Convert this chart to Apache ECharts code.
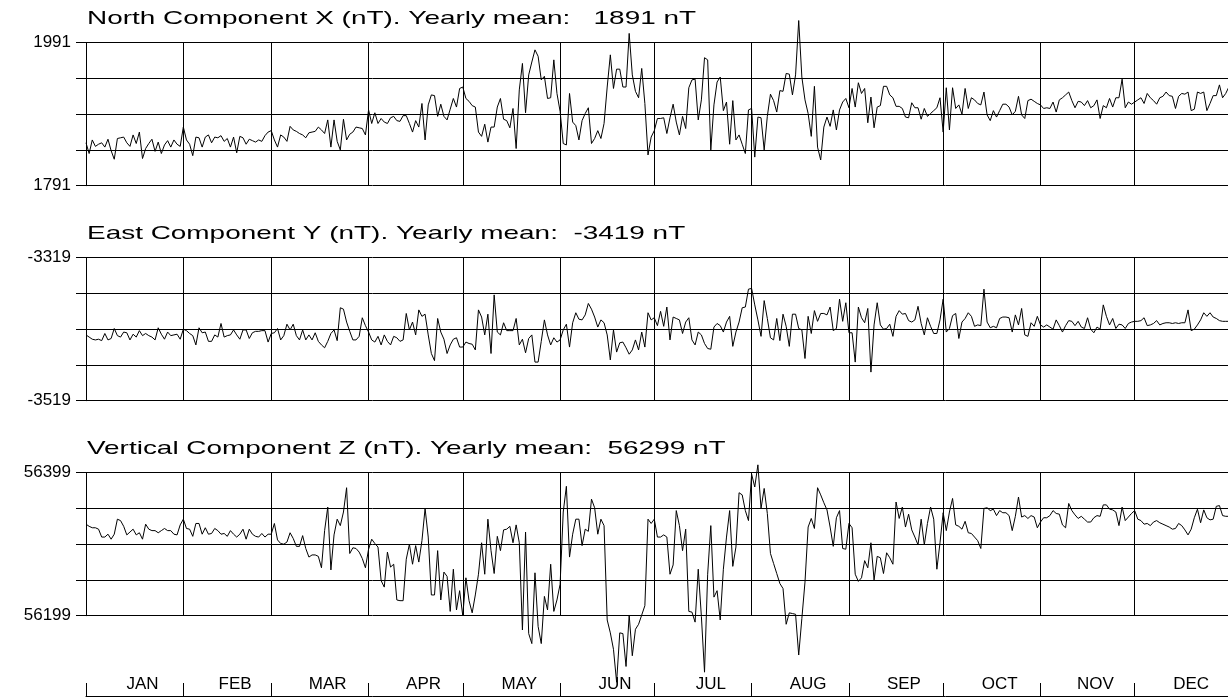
<!DOCTYPE html>
<html><head><meta charset="utf-8">
<script src="https://cdn.jsdelivr.net/npm/echarts@6/dist/echarts.min.js"></script>
<style>html,body{margin:0;padding:0;background:#fff;overflow:hidden;width:1228px;height:697px}#c{width:1232px;height:697px}</style>
</head><body><div id="c"></div>
<script>
// ---- data ----
const monthNames = ['JAN','FEB','MAR','APR','MAY','JUN','JUL','AUG','SEP','OCT','NOV','DEC'];
const monthDays = [31,28,31,30,31,30,31,31,30,31,30,31];
const titles = [
  'North Component X (nT). Yearly mean:   1891 nT',
  'East Component Y (nT). Yearly mean:  -3419 nT',
  'Vertical Component Z (nT). Yearly mean:  56299 nT'
];
const yTickLabelsX = [1791, 1991];
const yTickLabelsY = [-3519, -3319];
const yTickLabelsZ = [56199, 56399];

const northX = [
1851,1836,1855,1846,1849,1851,1845,1856,1840,1828,1857,1858,1859,1851,1846,1862,1850,1866,1829,1843,1850,1856,1839,1852,1836,1848,1854,1845,1855,1849,1846,
1873,1855,1849,1833,1859,1858,1845,1859,1862,1851,1859,1858,1861,1853,1857,1845,1859,1837,1860,1858,1849,1856,1854,1852,1855,1853,1861,1866,
1868,1855,1845,1862,1859,1853,1874,1869,1867,1864,1862,1858,1865,1866,1867,1873,1869,1864,1883,1845,1883,1853,1841,1884,1855,1863,1866,1873,1872,1871,1862,
1897,1878,1893,1878,1885,1880,1878,1886,1888,1882,1881,1889,1889,1878,1866,1882,1873,1906,1855,1904,1918,1917,1888,1905,1888,1883,1898,1913,1901,1927,
1929,1913,1909,1903,1901,1866,1860,1877,1852,1873,1873,1901,1913,1884,1882,1872,1899,1843,1925,1962,1893,1946,1964,1981,1972,1939,1944,1913,1914,1967,1920,
1895,1850,1848,1920,1880,1875,1855,1882,1892,1900,1850,1857,1868,1857,1878,1929,1974,1927,1954,1954,1929,1929,2004,1946,1923,1914,1955,1906,1834,1859,
1868,1885,1885,1886,1864,1886,1905,1880,1862,1888,1871,1928,1939,1940,1883,1911,1970,1967,1841,1904,1936,1943,1896,1908,1849,1910,1855,1862,1849,1836,1897,
1899,1831,1887,1886,1841,1888,1919,1910,1894,1924,1923,1948,1947,1918,1946,2022,1943,1911,1892,1860,1930,1845,1827,1873,1887,1874,1897,1869,1897,1908,1913,
1900,1927,1901,1935,1920,1927,1879,1915,1872,1901,1903,1930,1930,1918,1914,1902,1902,1899,1887,1886,1907,1900,1900,1884,1899,1888,1892,1896,1900,1914,
1866,1928,1869,1928,1899,1904,1891,1927,1899,1914,1911,1906,1904,1922,1890,1882,1896,1887,1896,1905,1905,1901,1890,1895,1916,1890,1885,1910,1912,1909,1906,
1904,1899,1900,1899,1908,1894,1911,1914,1918,1922,1910,1900,1909,1908,1903,1910,1900,1903,1911,1885,1903,1900,1913,1901,1914,1914,1940,1900,1908,1905,
1908,1911,1914,1906,1920,1914,1910,1905,1914,1916,1922,1917,1916,1899,1916,1920,1919,1922,1896,1898,1922,1920,1922,1896,1906,1917,1917,1932,1914,1920,1929
];

const eastY = [
-3427,-3430,-3433,-3434,-3433,-3435,-3425,-3434,-3432,-3418,-3428,-3430,-3423,-3424,-3434,-3426,-3430,-3421,-3428,-3425,-3428,-3430,-3434,-3417,-3426,-3433,-3423,-3428,-3427,-3426,-3433,
-3419,-3421,-3425,-3428,-3441,-3417,-3424,-3423,-3436,-3436,-3427,-3430,-3411,-3430,-3428,-3427,-3420,-3427,-3433,-3420,-3420,-3432,-3424,-3422,-3422,-3421,-3421,-3437,
-3425,-3424,-3418,-3434,-3428,-3412,-3420,-3412,-3428,-3434,-3420,-3434,-3427,-3434,-3424,-3436,-3441,-3445,-3436,-3425,-3420,-3435,-3389,-3391,-3409,-3422,-3434,-3434,-3429,-3403,-3414,
-3423,-3434,-3437,-3429,-3441,-3427,-3436,-3441,-3429,-3431,-3436,-3434,-3397,-3420,-3409,-3427,-3392,-3401,-3398,-3427,-3453,-3463,-3404,-3423,-3433,-3453,-3441,-3433,-3431,-3444,
-3444,-3437,-3439,-3440,-3448,-3392,-3402,-3427,-3398,-3453,-3371,-3423,-3427,-3410,-3421,-3421,-3421,-3404,-3441,-3433,-3452,-3432,-3427,-3465,-3465,-3436,-3406,-3427,-3441,-3431,-3437,
-3434,-3420,-3412,-3444,-3410,-3396,-3405,-3406,-3399,-3383,-3391,-3402,-3416,-3406,-3410,-3427,-3462,-3420,-3451,-3438,-3437,-3445,-3454,-3448,-3434,-3448,-3423,-3444,-3396,-3406,
-3403,-3414,-3394,-3415,-3388,-3434,-3402,-3404,-3406,-3425,-3409,-3403,-3434,-3441,-3423,-3427,-3439,-3446,-3447,-3416,-3411,-3414,-3423,-3409,-3401,-3443,-3423,-3409,-3389,-3388,-3363,
-3362,-3385,-3406,-3429,-3379,-3404,-3431,-3434,-3404,-3435,-3398,-3415,-3443,-3398,-3398,-3418,-3420,-3460,-3401,-3425,-3393,-3408,-3397,-3397,-3399,-3388,-3421,-3418,-3377,-3408,-3382,
-3424,-3424,-3465,-3388,-3403,-3410,-3390,-3479,-3413,-3382,-3413,-3419,-3418,-3412,-3429,-3401,-3393,-3398,-3397,-3407,-3409,-3406,-3387,-3411,-3427,-3403,-3415,-3425,-3425,-3406,
-3377,-3423,-3418,-3400,-3397,-3432,-3409,-3404,-3396,-3401,-3415,-3413,-3414,-3363,-3409,-3417,-3415,-3417,-3404,-3402,-3402,-3403,-3423,-3399,-3413,-3390,-3427,-3429,-3410,-3415,-3401,
-3413,-3416,-3413,-3416,-3419,-3406,-3414,-3423,-3414,-3407,-3408,-3414,-3408,-3416,-3418,-3403,-3419,-3424,-3416,-3419,-3385,-3401,-3413,-3404,-3418,-3412,-3413,-3418,-3411,-3409,
-3408,-3408,-3407,-3403,-3414,-3413,-3411,-3407,-3413,-3411,-3410,-3410,-3411,-3410,-3411,-3410,-3410,-3392,-3421,-3419,-3413,-3406,-3396,-3401,-3396,-3402,-3404,-3407,-3408,-3408,-3408
];

const vertZ = [
56327,56324,56322,56322,56320,56309,56309,56313,56306,56313,56334,56332,56324,56312,56316,56320,56312,56315,56306,56327,56320,56318,56318,56315,56318,56321,56318,56318,56313,56312,56326,
56334,56321,56320,56310,56328,56328,56313,56322,56313,56314,56321,56318,56313,56314,56310,56318,56313,56309,56313,56320,56306,56320,56313,56310,56309,56314,56309,56313,
56313,56328,56305,56300,56299,56302,56315,56307,56296,56296,56311,56293,56281,56284,56284,56282,56266,56318,56351,56263,56312,56334,56325,56344,56378,56286,56294,56293,56288,56279,56266,
56292,56306,56300,56295,56248,56239,56288,56267,56271,56221,56220,56220,56278,56299,56271,56297,56274,56304,56349,56309,56228,56228,56290,56221,56260,56254,56205,56264,56207,56234,
56199,56252,56220,56203,56228,56257,56301,56257,56334,56290,56258,56310,56290,56319,56320,56324,56301,56326,56301,56179,56316,56174,56160,56259,56184,56160,56226,56207,56271,56205,56221,
56243,56344,56380,56281,56313,56334,56334,56297,56320,56317,56362,56350,56313,56334,56325,56193,56175,56152,56106,56175,56174,56128,56200,56143,56180,56187,56200,56213,56334,56328,
56334,56309,56309,56312,56309,56257,56270,56346,56325,56290,56320,56205,56204,56190,56264,56198,56120,56257,56325,56225,56234,56193,56264,56309,56346,56268,56295,56371,56368,56346,56332,
56397,56379,56410,56349,56377,56342,56286,56272,56258,56244,56237,56187,56203,56202,56201,56144,56195,56246,56323,56335,56321,56378,56368,56357,56347,56323,56296,56336,56346,56293,56292,
56328,56322,56257,56247,56252,56276,56266,56301,56249,56282,56280,56258,56287,56280,56271,56358,56335,56351,56323,56341,56319,56309,56298,56334,56298,56328,56351,56334,56264,56301,
56343,56318,56344,56363,56326,56324,56320,56331,56315,56314,56309,56304,56293,56349,56350,56346,56348,56339,56346,56343,56343,56339,56318,56338,56365,56337,56339,56335,56339,56337,56322,
56330,56336,56336,56339,56346,56342,56341,56326,56322,56356,56346,56340,56335,56338,56334,56330,56330,56336,56339,56338,56354,56354,56348,56347,56344,56325,56351,56332,56337,56342,
56346,56334,56332,56327,56328,56325,56330,56332,56329,56327,56325,56323,56320,56321,56328,56325,56319,56312,56320,56336,56348,56329,56347,56336,56333,56334,56352,56353,56339,56338,56338
];

// ---- layout helpers ----
const monthStarts = [];
let acc = 0;
monthDays.forEach(d => { monthStarts.push(acc); acc += d; });
const yearDays = acc;
const monthMids = monthStarts.map((s, k) => s + monthDays[k] / 2 + 2.5);

const seriesList = [northX, eastY, vertZ];
const ranges = [yTickLabelsX, yTickLabelsY, yTickLabelsZ];
const panelTops = [42.7, 257.7, 472.7];
const panelH = 143;
const L = 86;
const FONT = '"Liberation Sans", Arial, Helvetica, sans-serif';

const grids = [], xAxes = [], yAxes = [], series = [];
seriesList.forEach((arr, k) => {
  const base = ranges[k][0], span = ranges[k][1] - ranges[k][0];
  grids.push({ left: L, right: 0, top: panelTops[k], height: panelH, containLabel: false });
  xAxes.push({ type: 'value', gridIndex: k, min: 0, max: yearDays, show: false });
  yAxes.push({
    type: 'value', gridIndex: k, min: 0, max: span, interval: 50,
    axisLine: { show: true, lineStyle: { color: '#000', width: 1 } },
    axisTick: { show: true, length: 10, lineStyle: { color: '#000', width: 1 } },
    splitLine: { show: true, lineStyle: { color: '#000', width: 1 } },
    axisLabel: {
      margin: 15, color: '#000', fontSize: 17, fontFamily: FONT,
      formatter: v => (v === 0 || v === span) ? String(base + v) : ''
    }
  });
  series.push({
    type: 'line', xAxisIndex: k, yAxisIndex: k,
    data: arr.map((v, i) => [i, v - base]),
    showSymbol: false, symbol: 'none', clip: false, silent: true, animation: false,
    lineStyle: { color: '#000', width: 1 },
    markLine: {
      silent: true, animation: false, symbol: ['none', 'none'],
      label: { show: false },
      lineStyle: { color: '#000', width: 1, type: 'solid' },
      emphasis: { disabled: true },
      data: monthStarts.slice(1).map(s => ({ xAxis: s }))
    }
  });
});

// bottom month axis
grids.push({ left: L, right: 0, top: 683, height: 13 });
xAxes.push({
  type: 'value', gridIndex: 3, min: 0, max: yearDays, position: 'bottom',
  axisLine: { show: true, lineStyle: { color: '#000', width: 1 } },
  axisTick: { show: true, inside: true, length: 13, customValues: monthStarts, lineStyle: { color: '#000', width: 1 } },
  splitLine: { show: false },
  axisLabel: {
    show: true, inside: true, margin: 3, color: '#000', fontSize: 17, fontFamily: FONT,
    customValues: monthMids,
    formatter: v => {
      let best = 0;
      monthMids.forEach((m, j) => { if (Math.abs(m - v) < Math.abs(monthMids[best] - v)) best = j; });
      return monthNames[best];
    }
  }
});
yAxes.push({ type: 'value', gridIndex: 3, min: 0, max: 1, show: false });

const graphic = titles.map((t, k) => ({
  type: 'text', x: 87, y: panelTops[k] - 23.5, scaleX: 1.47, silent: true,
  style: { text: t, fill: '#000', font: '19px ' + FONT, verticalAlign: 'middle', align: 'left' }
}));

const chart = echarts.init(document.getElementById('c'), null, { renderer: 'canvas' });
chart.setOption({
  animation: false,
  backgroundColor: '#fff',
  grid: grids, xAxis: xAxes, yAxis: yAxes, series: series, graphic: graphic
});
</script>
</body></html>
